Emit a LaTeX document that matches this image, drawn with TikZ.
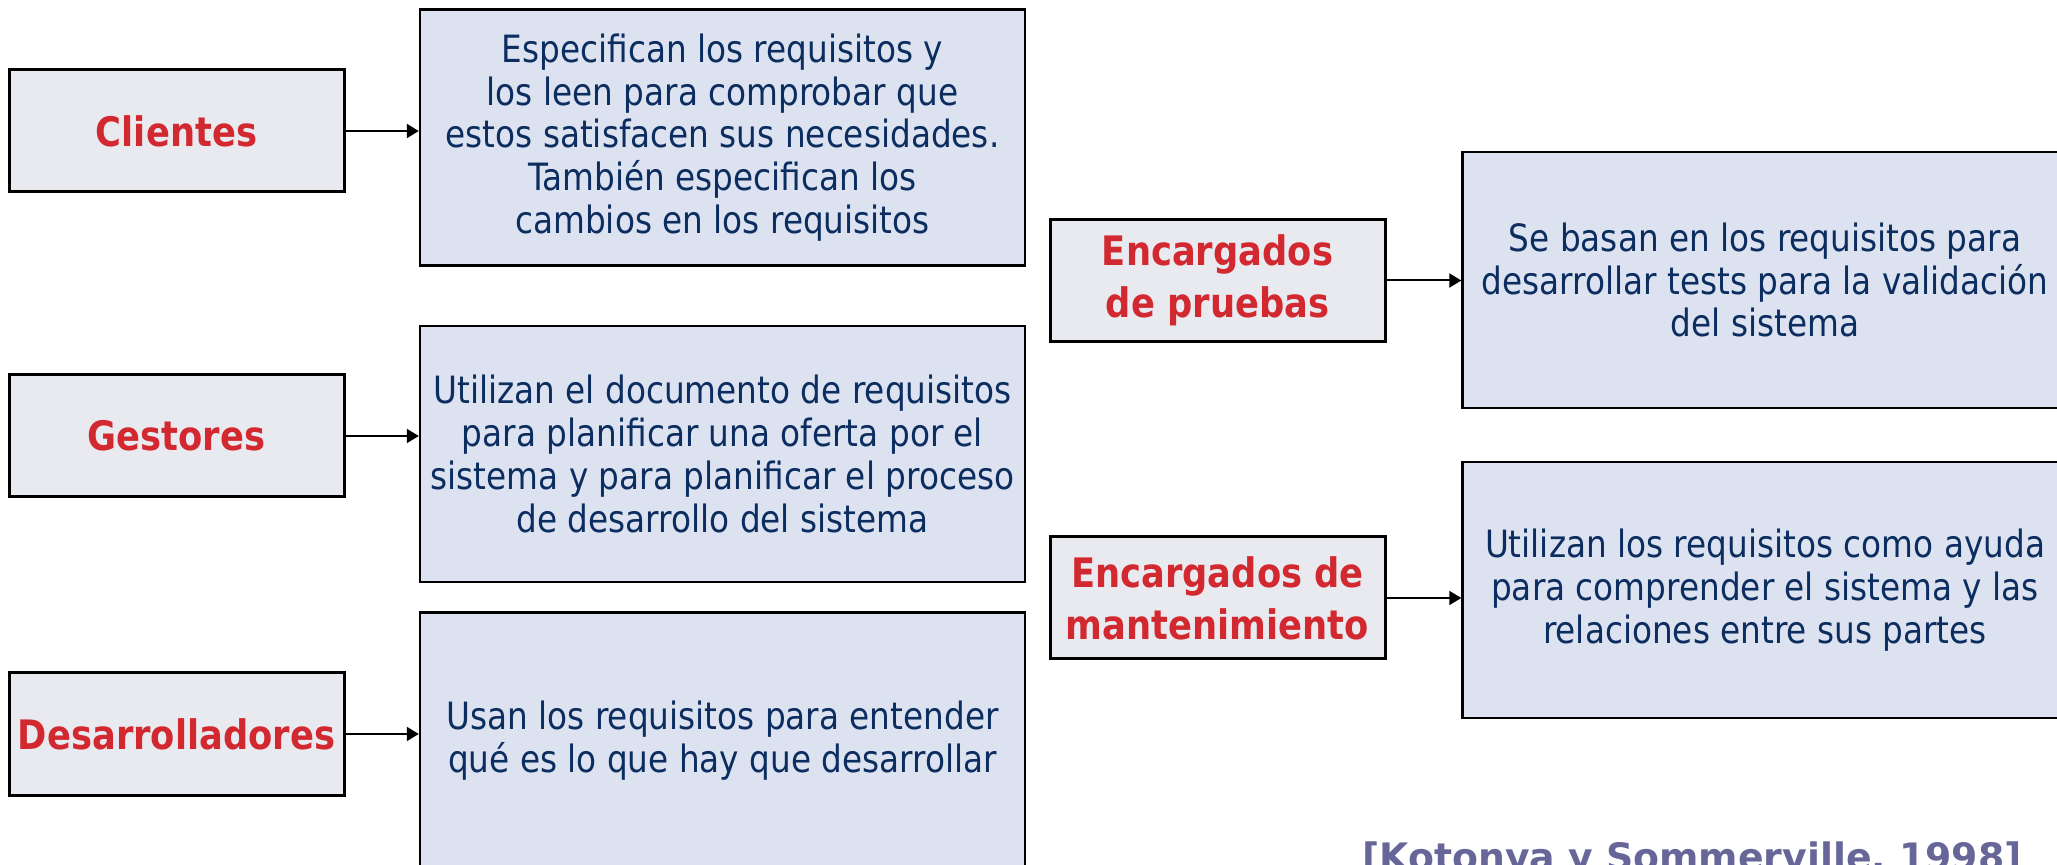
\documentclass[tikz,border=0pt]{standalone}
\usepackage{fontspec}
\setmainfont{DejaVu Sans}[FakeStretch=0.87]
\newfontfamily\citefont{DejaVu Sans}
\usetikzlibrary{arrows.meta}
\definecolor{redtxt}{RGB}{210,40,48}
\definecolor{bluetxt}{RGB}{12,45,95}
\definecolor{whofill}{RGB}{233,234,239}
\definecolor{descfill}{RGB}{220,226,240}
\definecolor{citecol}{RGB}{102,102,153}
\tikzset{
  who/.style={draw=black, line width=1.5pt, fill=whofill, minimum width=167.5pt, minimum height=61pt, inner sep=0pt, align=center, text=redtxt, font=\bfseries\fontsize{20.3}{26}\selectfont},
  desc/.style={draw=black, line width=1.2pt, fill=descfill, minimum width=302.5pt, minimum height=128pt, inner sep=0pt, align=center, text=bluetxt, font=\fontsize{18.8}{21.4}\selectfont},
  arr/.style={-{Triangle[length=6pt,width=7pt]}, line width=1pt}
}
\begin{document}
\begin{tikzpicture}[x=0.5pt,y=-0.5pt]
\useasboundingbox (0,0) rectangle (2057,865);
\clip (0,0) rectangle (2057,865);
\fill[white] (0,0) rectangle (2057,865);

\node[who] (c1) at (176.5,131) {Clientes};
\node[desc] (d1) at (722.5,137.5) {Especifican los requisitos y\\ los leen para comprobar que\\ estos satisfacen sus necesidades.\\ También especifican los\\ cambios en los requisitos};

\node[who] (c2) at (176.5,436) {Gestores};
\node[desc] (d2) at (722.5,454) {Utilizan el documento de requisitos\\ para planificar una oferta por el\\ sistema y para planificar el proceso\\ de desarrollo del sistema};

\node[who] (c3) at (176.5,734) {Desarrolladores};
\node[desc] (d3) at (722.5,740.5) {Usan los requisitos para entender\\ qué es lo que hay que desarrollar};

\node[who] (c4) at (1217.5,280.5) {Encargados\\ de pruebas};
\node[desc] (d4) at (1765,280) {Se basan en los requisitos para\\ desarrollar tests para la validación\\ del sistema};

\node[who] (c5) at (1217.5,598) {Encargados de\\ mantenimiento};
\node[desc] (d5) at (1765,590) {Utilizan los requisitos como ayuda\\ para comprender el sistema y las\\ relaciones entre sus partes};

\draw[arr] (c1.east) -- (d1.west |- c1.east);
\draw[arr] (c2.east) -- (d2.west |- c2.east);
\draw[arr] (c3.east) -- (d3.west |- c3.east);
\draw[arr] (c4.east) -- (d4.west |- c4.east);
\draw[arr] (c5.east) -- (d5.west |- c5.east);

\node[anchor=base, text=citecol, font=\citefont\bfseries\fontsize{18.9}{22}\selectfont, inner sep=0pt] (cite) at (1692,870) {[Kotonya y Sommerville, 1998]};
\end{tikzpicture}
\end{document}
